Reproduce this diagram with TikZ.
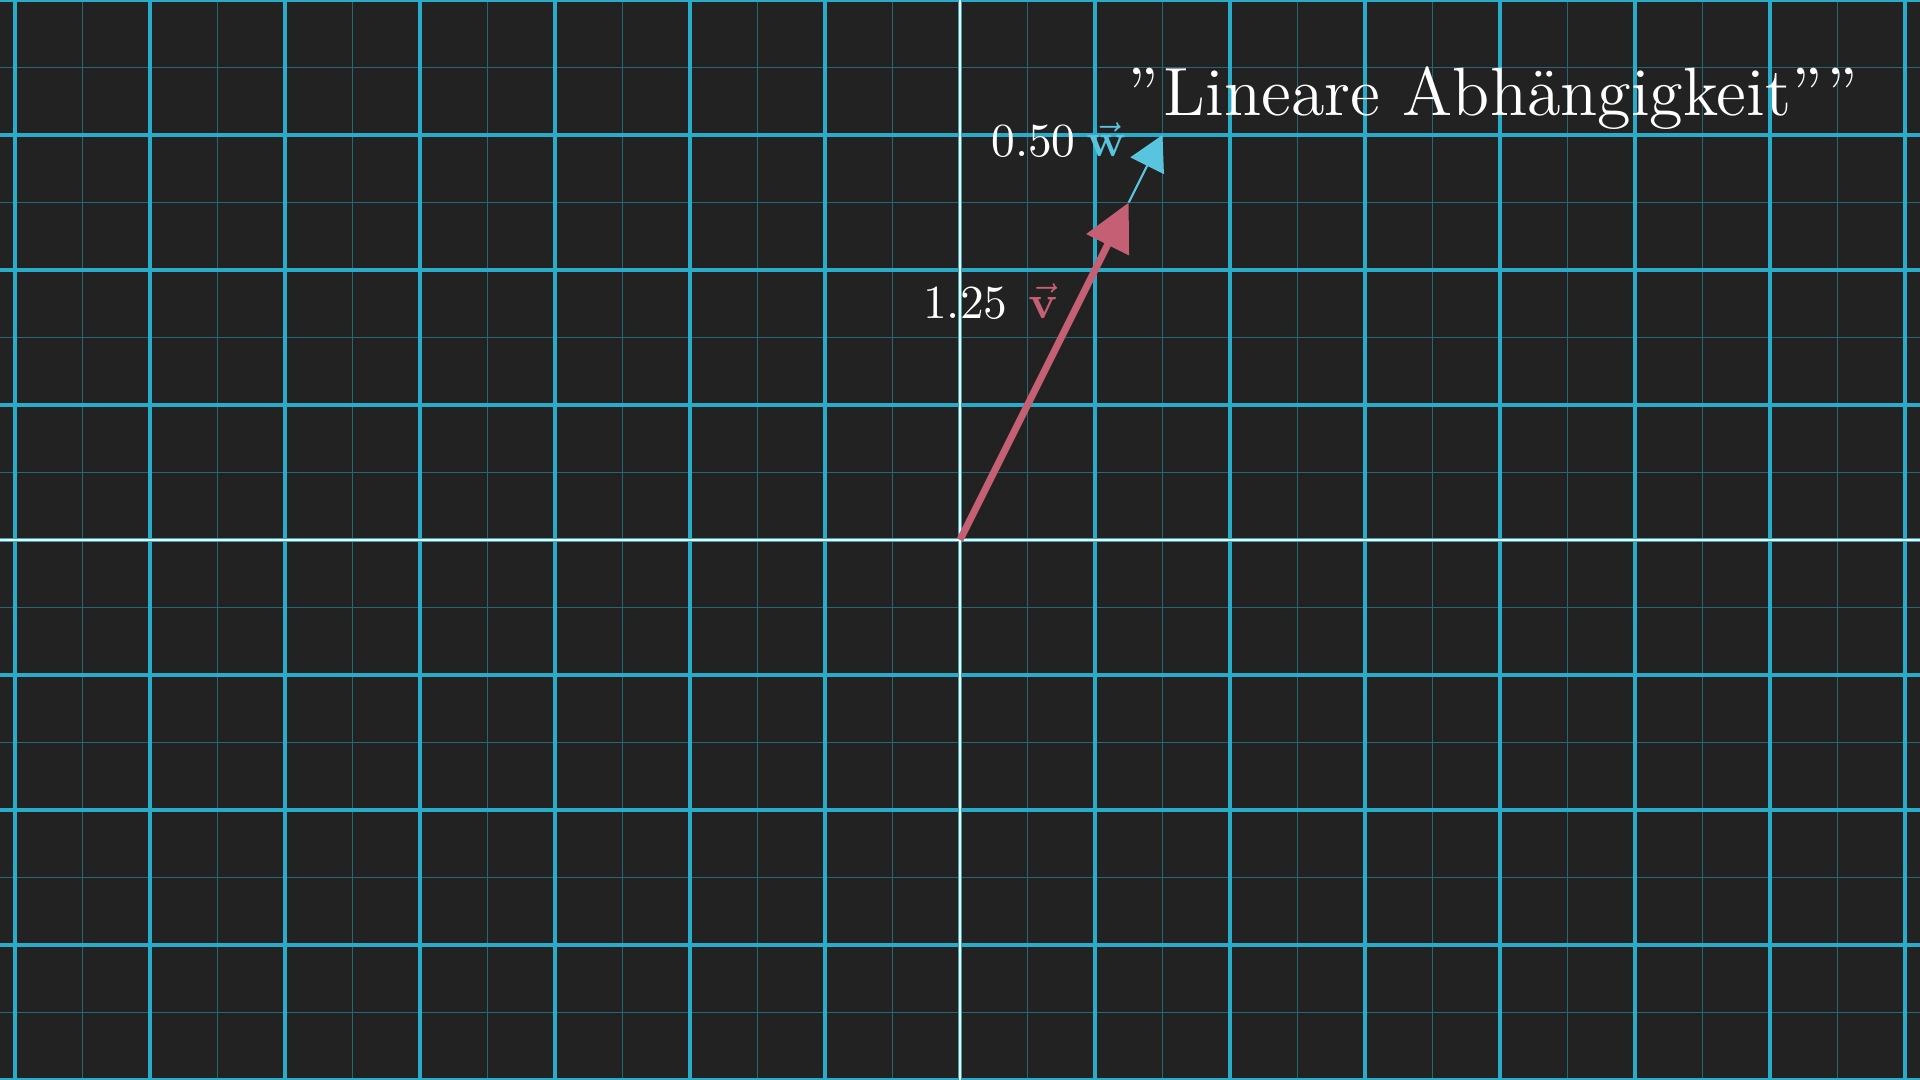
\documentclass[tikz,border=0pt]{standalone}
\usepackage{amsmath,amssymb}
\usepackage{tikz}
\usetikzlibrary{arrows.meta}
\definecolor{bgdark}{HTML}{222222}
\definecolor{gridblue}{HTML}{29ABCA}
\definecolor{vecred}{HTML}{C55F73}
\definecolor{veccyan}{HTML}{58C4DD}

\begin{document}
\begin{tikzpicture}[
  >=Stealth,
  major/.style={gridblue, line width=0.65pt},
  minor/.style={gridblue!50!bgdark, line width=0.3pt},
  axis/.style={white, line width=0.6pt},
  vvec/.style={vecred, line width=1.5pt, -{Triangle[length=3.5mm, width=3.4mm]}},
  wvec/.style={veccyan, line width=0.45pt, -{Triangle[length=2.55mm, width=2.75mm]}},
  every node/.style={text=white, inner sep=0pt}
]
  % one unit is 135px of the 1920x1080 frame
  \fill[bgdark] (-7.1111,-4) rectangle (7.1111,4);
  \useasboundingbox (-7.1111,-4) rectangle (7.1111,4);

  \foreach \x in {-6.5,-5.5,...,6.5}
    \draw[minor] (\x,-4) -- (\x,4);
  \foreach \y in {-3.5,-2.5,...,3.5}
    \draw[minor] (-7.1111,\y) -- (7.1111,\y);
  \foreach \x in {-7,...,7}
    \draw[major] (\x,-4) -- (\x,4);
  \foreach \y in {-4,...,4}
    \draw[major] (-7.1111,\y) -- (7.1111,\y);

  \draw[axis] (-7.1111,0) -- (7.1111,0);
  \draw[axis] (0,-4) -- (0,4);

  \coordinate (O) at (0,0);
  \coordinate (vtip) at (1.25,2.5);
  \coordinate (wtip) at (1.5,3);
  \draw[vvec] (O) -- (vtip);
  \draw[wvec] (vtip) -- (wtip);

  \node[anchor=base west] (vnum) at (-0.28,1.644) {1.25};
  \node[anchor=base west, text=vecred] (vlabel) at (0.5,1.644) {$\vec{\mathbf{v}}$};
  \node[anchor=base west] (wnum) at (0.225,2.837) {0.50};
  \node[anchor=base west, text=veccyan] (wlabel) at (0.93,2.837) {$\vec{\mathbf{w}}$};

  \node[anchor=base west, font=\fontsize{14.4}{17}\selectfont] (title) at (1.235,3.148)
    {”\kern1pt Lineare Abhängigkeit””};
\end{tikzpicture}
\end{document}
